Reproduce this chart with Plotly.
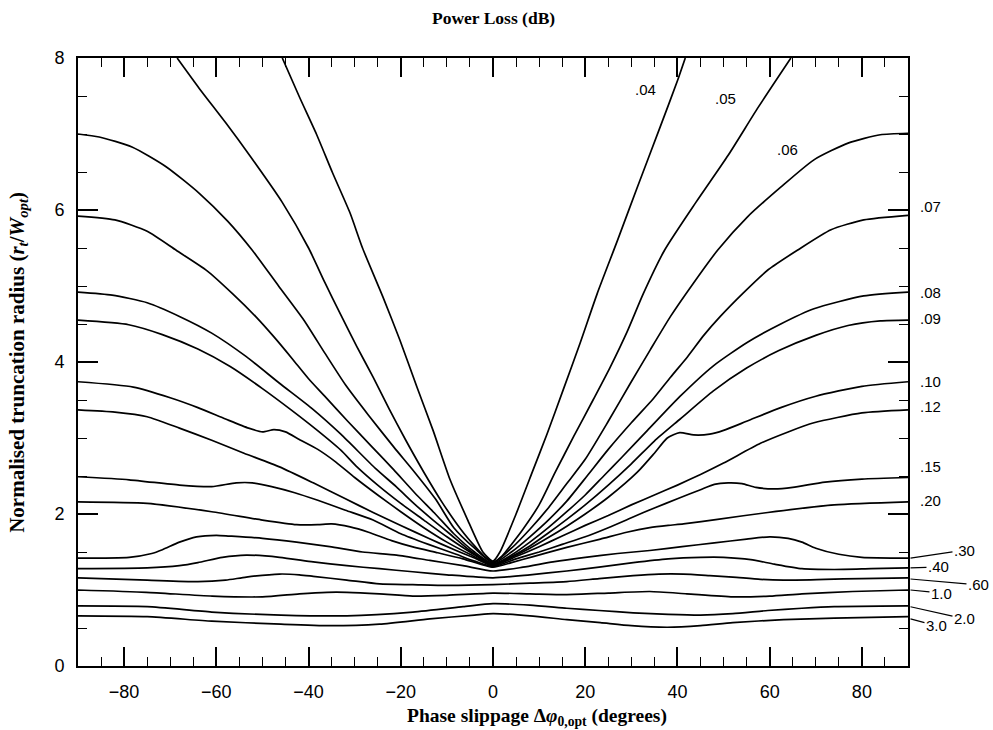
import plotly.graph_objects as go

# ---------------- data ----------------
levels = [".04", ".05", ".06", ".07", ".08", ".09", ".10", ".12", ".15", ".20",
          ".30", ".40", ".60", "1.0", "2.0", "3.0"]

x_04 = [-45.7, -42, -38.3, -34.8, -31, -28.3, -23.9, -20.2, -16.5, -13, -9.3, -5.7, -2.2, 0,
        1.5, 5, 8.7, 11.7, 15.2, 18.9, 22.6, 27, 31.3, 36.3, 40, 41.7]
y_04 = [8, 7.49, 7.0, 6.49, 5.96, 5.5, 4.86, 4.29, 3.67, 3.1, 2.45, 1.95, 1.5, 1.38,
        1.5, 2.0, 2.58, 3.05, 3.63, 4.25, 4.9, 5.6, 6.3, 7.1, 7.7, 8.0]

x_05 = [-68.5, -63.7, -58, -52.8, -45.7, -40, -36.5, -33, -29.5, -26, -22.5, -19, -15, -11, -7, -4, -2, 0,
        2, 4, 6.5, 10, 13.5, 17.5, 21.7, 25.4, 29.1, 32.6, 37.2, 44, 51, 57.5, 64.6]
y_05 = [8, 7.6, 7.15, 6.72, 6.1, 5.5, 5.05, 4.62, 4.2, 3.8, 3.38, 2.98, 2.55, 2.15, 1.8, 1.58, 1.45, 1.37,
        1.45, 1.6, 1.8, 2.12, 2.55, 3.02, 3.5, 3.93, 4.4, 4.9, 5.47, 6.1, 6.72, 7.35, 8.0]

x_06 = [-90, -85.4, -78.3, -70.9, -63.7, -57.5, -52.2, -46.5, -41, -36.5, -32, -27, -21.5, -17, -12.5, -8.5, -4, 0,
        4, 8, 12, 16, 20, 25, 29.8, 34.1, 38.5, 43.5, 48.7, 55.2, 62.4, 69.6, 77, 84, 90]
y_06 = [7.0, 6.96, 6.83, 6.57, 6.22, 5.85, 5.47, 5.0, 4.55, 4.12, 3.7, 3.3, 2.88, 2.55, 2.2, 1.82, 1.55, 1.36,
        1.55, 1.8, 2.08, 2.4, 2.72, 3.22, 3.72, 4.16, 4.6, 5.04, 5.47, 5.91, 6.3, 6.66, 6.88, 6.99, 7.01]

x_07 = [-90, -82, -75, -68.7, -62, -56.5, -51.5, -47.5, -43.5, -40, -36.5, -31.5, -26.5, -21.5, -17, -12.5, -8.5, -4, 0,
        4, 8, 12, 16, 20.4, 25, 30, 34.8, 38.5, 42.2, 45.7, 49.3, 54.3, 59.6, 66, 73.3, 80.4, 90]
y_07 = [5.92, 5.87, 5.72, 5.47, 5.2, 4.9, 4.6, 4.33, 4.04, 3.78, 3.55, 3.22, 2.9, 2.58, 2.28, 2.0, 1.74, 1.5, 1.35,
        1.5, 1.7, 1.92, 2.17, 2.5, 2.85, 3.2, 3.52, 3.8, 4.07, 4.35, 4.6, 4.91, 5.21, 5.47, 5.74, 5.87, 5.93]

x_08 = [-90, -82.6, -75, -68, -61, -53.5, -46.3, -39.1, -33, -25.5, -21, -17, -13, -9, -5, 0,
        4, 8, 12, 16, 20, 24, 28, 33.5, 40.6, 47.8, 55.2, 62.4, 69.6, 80.4, 90]
y_08 = [4.92, 4.88, 4.78, 4.6, 4.38, 4.07, 3.72, 3.38, 3.05, 2.6, 2.36, 2.13, 1.92, 1.72, 1.52, 1.34,
        1.46, 1.63, 1.82, 2.03, 2.25, 2.5, 2.75, 3.1, 3.55, 3.95, 4.26, 4.5, 4.7, 4.87, 4.92]

x_09 = [-90, -79, -71.7, -64, -57, -50, -44, -38.5, -33, -29.5, -25, -20, -15, -10, -5, 0,
        4, 8, 12, 16, 20, 25, 30, 35, 40.6, 47.8, 55, 62, 70, 77, 84, 90]
y_09 = [4.55, 4.49, 4.36, 4.17, 3.94, 3.65, 3.38, 3.12, 2.84, 2.62, 2.38, 2.14, 1.92, 1.7, 1.5, 1.33,
        1.44, 1.58, 1.75, 1.93, 2.12, 2.38, 2.66, 2.96, 3.25, 3.62, 3.92, 4.15, 4.35, 4.48, 4.54, 4.55]

x_10 = [-90, -78, -70, -64, -58, -53, -50, -47.5, -45, -42, -38, -34, -30, -25, -20, -15, -10, -5, 0,
        4, 8, 12, 16, 20, 25, 31.3, 35, 37.8, 40.5, 43.5, 47, 50, 55, 62.4, 70, 80, 90]
y_10 = [3.74, 3.67, 3.53, 3.4, 3.25, 3.13, 3.08, 3.11, 3.08, 2.98, 2.85, 2.68, 2.48, 2.25, 2.03, 1.82, 1.63, 1.47, 1.33,
        1.43, 1.55, 1.69, 1.84, 2.0, 2.22, 2.55, 2.8, 3.0, 3.07, 3.04, 3.05, 3.1, 3.22, 3.4, 3.55, 3.68, 3.74]

x_12 = [-90, -82, -75, -68, -61, -54, -46.3, -39, -32, -26, -20, -14, -8, -4, 0,
        5, 10, 15, 20, 25, 30, 35, 40, 45, 50, 58, 64, 69.6, 80, 90]
y_12 = [3.37, 3.34, 3.28, 3.13, 2.97, 2.8, 2.62, 2.41, 2.2, 2.02, 1.85, 1.68, 1.52, 1.42, 1.32,
        1.44, 1.57, 1.71, 1.85, 1.98, 2.12, 2.25, 2.38, 2.52, 2.67, 2.93, 3.08, 3.2, 3.33, 3.37]

x_15 = [-90, -78.9, -68, -61, -55.7, -52.2, -48, -43, -38, -32, -26, -20, -14, -8, -4, 0,
        5, 10, 15, 20, 25, 30, 35, 40, 45, 48, 51, 54, 57, 61, 65, 72, 80, 90]
y_15 = [2.49, 2.45, 2.38, 2.36, 2.41, 2.41, 2.36, 2.28, 2.18, 2.05, 1.92, 1.74, 1.6, 1.47, 1.38, 1.31,
        1.41, 1.5, 1.6, 1.7, 1.82, 1.95, 2.08, 2.2, 2.32, 2.39, 2.41, 2.4, 2.35, 2.33, 2.35, 2.42, 2.46, 2.48]

x_20 = [-90, -75, -61, -50, -42.6, -38, -35, -31, -27, -22, -17, -12, -6.5, 0,
        4, 8.7, 16, 23.3, 29, 34, 38, 41.3, 48.7, 59.6, 74, 90]
y_20 = [2.16, 2.14, 2.03, 1.92, 1.86, 1.86, 1.87, 1.83, 1.76, 1.65, 1.56, 1.49, 1.41, 1.3,
        1.36, 1.44, 1.56, 1.67, 1.76, 1.82, 1.85, 1.87, 1.93, 2.02, 2.12, 2.16]

x_30 = [-90, -78.9, -74, -71.7, -68, -64.3, -60, -57.2, -50, -42.6, -35.4, -28.3, -20.9, -13.7, -6.5, 0,
        6.5, 13, 20, 27, 34, 41, 48, 55, 60, 64, 67, 70, 75, 80, 90]
y_30 = [1.42, 1.43, 1.48, 1.53, 1.63, 1.70, 1.72, 1.71, 1.68, 1.63, 1.57, 1.5, 1.46, 1.39, 1.32, 1.25,
        1.3, 1.37, 1.43, 1.48, 1.52, 1.57, 1.62, 1.67, 1.70, 1.68, 1.63, 1.55, 1.47, 1.43, 1.42]

x_40 = [-90, -75, -68, -64, -58.7, -53.5, -46.3, -39, -31.7, -24.6, -17.4, -10, 0,
        8, 16, 23, 30.4, 38, 45, 50, 55.9, 61, 67, 74, 82, 90]
y_40 = [1.28, 1.29, 1.32, 1.36, 1.43, 1.46, 1.43, 1.37, 1.32, 1.28, 1.24, 1.2, 1.16,
        1.2, 1.25, 1.3, 1.36, 1.41, 1.43, 1.43, 1.4, 1.34, 1.28, 1.27, 1.28, 1.29]

x_60 = [-90, -75, -64, -58, -53.5, -46.3, -42, -39, -31.7, -24.6, -17.4, -10, 0,
        8, 16, 23, 30.4, 36, 41.3, 47, 52, 58, 63, 72, 80, 90]
y_60 = [1.16, 1.13, 1.11, 1.13, 1.17, 1.21, 1.2, 1.18, 1.13, 1.08, 1.07, 1.06, 1.07,
        1.09, 1.11, 1.15, 1.19, 1.21, 1.21, 1.19, 1.17, 1.14, 1.13, 1.14, 1.15, 1.16]

x_100 = [-90, -75.2, -60.9, -50, -42, -36, -31.7, -24.6, -17.4, -10, 0,
         8, 16, 25, 34, 42, 52, 60, 67, 78, 90]
y_100 = [1.0, 0.97, 0.92, 0.91, 0.95, 0.97, 0.97, 0.95, 0.92, 0.93, 0.96,
         0.95, 0.94, 0.96, 0.98, 0.95, 0.91, 0.92, 0.95, 0.98, 1.0]

x_200 = [-90, -75, -61, -46, -31.7, -17.4, -6.5, 0, 8, 16, 23, 30.4, 38, 45, 52, 59.6, 67, 74, 90]
y_200 = [0.79, 0.78, 0.71, 0.67, 0.66, 0.71, 0.78, 0.82, 0.8, 0.76, 0.73, 0.7, 0.68, 0.67, 0.69, 0.73, 0.76, 0.78, 0.79]

x_300 = [-90, -75, -61, -46, -35.4, -24.6, -13.7, -4, 0, 8, 16, 23.3, 30, 37.8, 45, 52, 63, 74, 90]
y_300 = [0.66, 0.65, 0.59, 0.55, 0.53, 0.55, 0.62, 0.67, 0.69, 0.66, 0.61, 0.57, 0.53, 0.51, 0.53, 0.57, 0.61, 0.63, 0.65]

curves_x = [x_04, x_05, x_06, x_07, x_08, x_09, x_10, x_12, x_15, x_20, x_30, x_40, x_60, x_100, x_200, x_300]
curves_y = [y_04, y_05, y_06, y_07, y_08, y_09, y_10, y_12, y_15, y_20, y_30, y_40, y_60, y_100, y_200, y_300]

x_ticks = [-80, -60, -40, -20, 0, 20, 40, 60, 80]
y_ticks = [0, 2, 4, 6, 8]

# label positions: inside labels in data coordinates
inside_labels = [".04", ".05", ".06"]
inside_x = [33, 50.4, 63.9]
inside_y = [7.59, 7.47, 6.8]
# right-margin labels: level text and data-y of the text
margin_labels = [".07", ".08", ".09", ".10", ".12", ".15", ".20"]
margin_y = [6.04, 4.91, 4.57, 3.75, 3.41, 2.63, 2.18]
# labels with leader lines: text, curve-end y, text offset (px)
leader_labels = [".30", ".40", ".60", "1.0", "2.0", "3.0"]
leader_tip_y = [1.42, 1.29, 1.145, 1.0, 0.78, 0.62]
leader_dx = [54, 28, 68, 31, 54, 26]
leader_dy = [-8, -1, 6, 3, 12, 7]

# ---------------- figure ----------------
fig = go.Figure()
for name, xs, ys in zip(levels, curves_x, curves_y):
    fig.add_trace(go.Scatter(
        x=xs, y=ys, mode="lines", name=name,
        line=dict(color="black", width=1.7, shape="spline", smoothing=0.6),
        showlegend=False, hoverinfo="skip"))

lab_font = dict(family="Liberation Sans, Arial, sans-serif", size=15, color="black")
serif = "Liberation Serif, DejaVu Serif, serif"

ann = []
for t, x, y in zip(inside_labels, inside_x, inside_y):
    ann.append(dict(x=x, y=y, xref="x", yref="y", text=t, showarrow=False, font=lab_font))
for t, y in zip(margin_labels, margin_y):
    ann.append(dict(x=1.012, y=y, xref="paper", yref="y", text=t, showarrow=False,
                    xanchor="left", yanchor="middle", font=lab_font))
for t, y, dx, dy in zip(leader_labels, leader_tip_y, leader_dx, leader_dy):
    ann.append(dict(x=1.003, y=y, xref="paper", yref="y", text=t, showarrow=True,
                    arrowhead=0, arrowwidth=1.2, arrowcolor="black", ax=dx, ay=dy,
                    standoff=0, font=lab_font))

ann.append(dict(x=0.5, y=1.066, xref="paper", yref="paper", text="<b>Power Loss (dB)</b>",
                xanchor="center", yanchor="middle",
                showarrow=False, font=dict(family=serif, size=17.5, color="black")))
ann.append(dict(x=0.553, y=-0.084, xref="paper", yref="paper",
                xanchor="center", yanchor="middle",
                text="<b>Phase slippage Δ<i>φ</i><sub>0,opt</sub> (degrees)</b>",
                showarrow=False, font=dict(family=serif, size=19.5, color="black")))
ann.append(dict(x=-0.0725, y=0.5, xref="paper", yref="paper", textangle=-90,
                xanchor="center", yanchor="middle",
                text="<b>Normalised truncation radius (<i>r<sub>t</sub></i>/<i>W<sub>opt</sub></i>)</b>",
                showarrow=False, font=dict(family=serif, size=21, color="black")))

fig.update_layout(
    width=993, height=730,
    margin=dict(l=78, r=85, t=58, b=64),
    plot_bgcolor="white", paper_bgcolor="white",
    showlegend=False, annotations=ann,
)
tickfont = dict(family="Liberation Sans, Arial, sans-serif", size=18, color="black")
fig.update_xaxes(range=[-90, 90], tickmode="array", tickvals=x_ticks,
                 ticks="inside", ticklen=19, tickwidth=1.5, tickcolor="black",
                 showline=True, linecolor="black", linewidth=2, mirror="ticks",
                 showgrid=False, zeroline=False, tickfont=tickfont, ticklabelstandoff=8,
                 minor=dict(dtick=5, tick0=0, ticks="inside", ticklen=9, tickwidth=1.3,
                            tickcolor="black", showgrid=False))
fig.update_yaxes(range=[0, 8], tickmode="array", tickvals=y_ticks,
                 ticks="inside", ticklen=20, tickwidth=1.5, tickcolor="black",
                 showline=True, linecolor="black", linewidth=2, mirror="ticks",
                 showgrid=False, zeroline=False, tickfont=tickfont, ticklabelstandoff=8,
                 minor=dict(dtick=0.5, tick0=0, ticks="inside", ticklen=9, tickwidth=1.3,
                            tickcolor="black", showgrid=False))

fig.write_html("out.html")
